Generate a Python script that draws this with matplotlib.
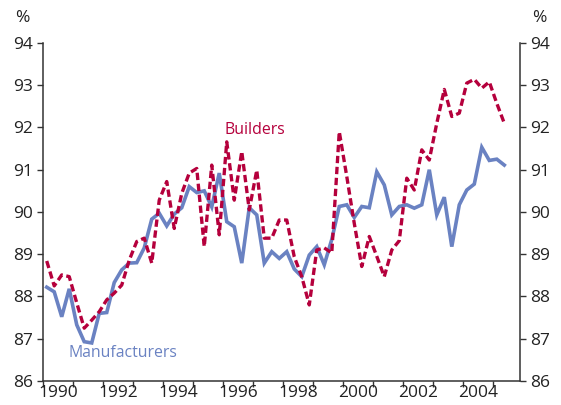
import numpy as np
import matplotlib.pyplot as plt

# quarterly data, 1990 Q1 to 2005 Q2 (per cent)
quarters = np.arange(1990.125, 2005.5, 0.25)

manufacturers = [88.22, 88.11, 87.52, 88.18, 87.33, 86.93, 86.90, 87.60,
                 87.62, 88.33, 88.63, 88.79, 88.80, 89.15, 89.83, 89.97,
                 89.67, 89.95, 90.10, 90.60, 90.46, 90.50, 90.12, 90.92,
                 89.77, 89.65, 88.79, 90.10, 89.93, 88.79, 89.06, 88.90,
                 89.06, 88.65, 88.47, 88.98, 89.18, 88.75, 89.35, 90.13,
                 90.17, 89.87, 90.13, 90.10, 90.95, 90.64, 89.93, 90.13,
                 90.17, 90.09, 90.17, 91.00, 89.93, 90.35, 89.18, 90.17,
                 90.52, 90.66, 91.53, 91.22, 91.25, 91.11]

builders = [88.84, 88.25, 88.51, 88.47, 87.85, 87.25, 87.44, 87.64,
            87.92, 88.08, 88.27, 88.86, 89.30, 89.38, 88.79, 90.28,
            90.72, 89.61, 90.44, 90.92, 91.03, 89.18, 91.11, 89.46,
            91.66, 90.28, 91.43, 90.05, 90.99, 89.38, 89.38, 89.81,
            89.81, 88.94, 88.47, 87.80, 89.10, 89.15, 89.03, 91.90,
            90.84, 89.73, 88.71, 89.42, 88.95, 88.47, 89.10, 89.32,
            90.80, 90.52, 91.47, 91.23, 92.10, 92.90, 92.26, 92.34,
            93.05, 93.14, 92.93, 93.08, 92.57, 92.10]

year_labels = ['1990', '1992', '1994', '1996', '1998', '2000', '2002', '2004']
y_ticks = [86, 87, 88, 89, 90, 91, 92, 93, 94]

blue = '#6a82c2'
red = '#b5003c'
text_col = '#222222'

plt.rcParams['font.family'] = ['Open Sans', 'DejaVu Sans']

fig = plt.figure(figsize=(5.61, 4.05), dpi=100)
ax = fig.add_axes([0.0766, 0.0593, 0.8504, 0.8346])

ax.plot(quarters[:len(manufacturers)], manufacturers, color=blue, lw=2.6,
        solid_joinstyle='miter', zorder=2)
ax.plot(quarters[:len(builders)], builders, color=red, lw=2.4,
        dashes=(2.2, 1.1), zorder=3)

ax.set_xlim(1990, 2005.9)
ax.set_ylim(86, 94)

# year ticks, labels centred in each even year
ax.set_xticks(np.arange(1990, 2006))
ax.set_xticklabels([])
ax.set_xticks([int(y) + 0.5 for y in year_labels], minor=True)
ax.set_xticklabels(year_labels, minor=True)
ax.tick_params(axis='x', which='major', direction='out', length=4,
               width=1, color='#333333')
ax.tick_params(axis='x', which='minor', length=0, pad=3,
               labelsize=12.5, labelcolor=text_col)

ax.set_yticks(y_ticks)
ax.tick_params(axis='y', which='major', direction='out', length=4,
               width=1, color='#333333', labelsize=12.5,
               labelcolor=text_col, left=True, right=True,
               labelleft=True, labelright=True, pad=3)

for side in ['left', 'right', 'bottom']:
    ax.spines[side].set_color('#333333')
    ax.spines[side].set_linewidth(1.1)
ax.spines['top'].set_visible(False)

fig.text(0.027, 0.955, '%', fontsize=12.5, color=text_col, ha='left', va='center')
fig.text(0.975, 0.955, '%', fontsize=12.5, color=text_col, ha='right', va='center')

ax.text(1997.05, 91.94, 'Builders', color=red, fontsize=11.4, ha='center', va='center')
ax.text(1992.65, 86.66, 'Manufacturers', color=blue, fontsize=11.4,
        ha='center', va='center')

fig.savefig('out.png', dpi=100)
